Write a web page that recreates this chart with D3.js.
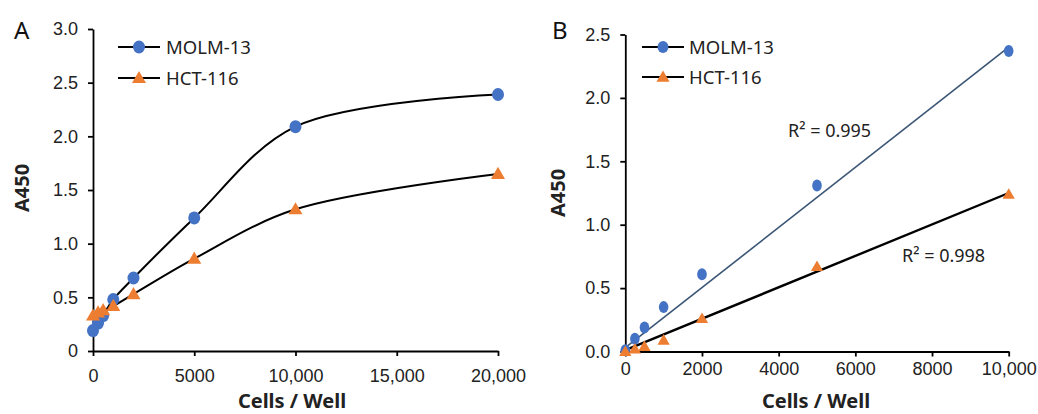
<!DOCTYPE html>
<html>
<head>
<meta charset="utf-8">
<script src="https://cdn.jsdelivr.net/npm/d3@7"></script>
<style>
  body { margin: 0; background: #fff; }
  svg { display: block; font-family: "Noto Sans", sans-serif; }
  .tick text { font-size: 18px; fill: #222; }
  .axis path, .axis line { stroke: #000; stroke-width: 1.8; }
</style>
</head>
<body>
<div id="svg-container"></div>
<script>
// cells per well
const cellsA = [0, 250, 500, 1000, 2000, 5000, 10000, 20000];
const cellsB = [0, 250, 500, 1000, 2000, 5000, 10000];

// absorbance, panel A
const molmA = [0.19, 0.26, 0.33, 0.48, 0.68, 1.24, 2.09, 2.39];
const hctA = [0.33, 0.36, 0.38, 0.42, 0.53, 0.86, 1.32, 1.65];

// absorbance, panel B
const molmB = [0.01, 0.10, 0.19, 0.35, 0.61, 1.31, 2.37];
const hctB = [0.0, 0.02, 0.04, 0.09, 0.26, 0.67, 1.24];

// linear fits in B (value at 0 and at 10,000 cells)
const fitX = [0, 10000];
const molmFit = [0.03, 2.40];
const hctFit = [0.01, 1.25];
const r2Labels = ["R\u00B2 = 0.995", "R\u00B2 = 0.998"];

const seriesNames = ["MOLM-13", "HCT-116"];

// tick labels
const yTicksA = [0, 0.5, 1, 1.5, 2, 2.5, 3];
const yLabelsA = ["0", "0.5", "1.0", "1.5", "2.0", "2.5", "3.0"];
const xTicksA = [0, 5000, 10000, 15000, 20000];
const xLabelsA = ["0", "5000", "10,000", "15,000", "20,000"];
const yTicksB = [0, 0.5, 1, 1.5, 2, 2.5];
const yLabelsB = ["0.0", "0.5", "1.0", "1.5", "2.0", "2.5"];
const xTicksB = [0, 2000, 4000, 6000, 8000, 10000];
const xLabelsB = ["0", "2000", "4000", "6000", "8000", "10,000"];

const blue = "#4472c4";
const orange = "#ed7d31";

const width = 1038, height = 414;
const svg = d3.select("#svg-container").append("svg")
  .attr("width", width).attr("height", height);

function zip(xs, ys) { return xs.map((x, i) => ({ x: x, y: ys[i] })); }

function drawCircles(g, data, x, y, rx, ry) {
  g.selectAll(null).data(data).enter().append("ellipse")
    .attr("cx", d => x(d.x)).attr("cy", d => y(d.y))
    .attr("rx", rx).attr("ry", ry).attr("fill", blue);
}
function drawTriangles(g, data, x, y, size) {
  const sym = d3.symbol().type(d3.symbolTriangle).size(size);
  g.selectAll(null).data(data).enter().append("path")
    .attr("d", sym)
    .attr("transform", d => `translate(${x(d.x)},${y(d.y) + 1})`)
    .attr("fill", orange);
}

function drawAxes(x, y, xt, xl, yt, yl, xPad) {
  const y0 = y.range()[0], x0 = x.range()[0];
  svg.append("g").attr("class", "axis")
    .attr("transform", `translate(0,${y0})`)
    .call(d3.axisBottom(x).tickValues(xt).tickFormat((d, i) => xl[i])
      .tickSize(5).tickSizeOuter(0).tickPadding(xPad));
  svg.append("g").attr("class", "axis")
    .attr("transform", `translate(${x0},0)`)
    .call(d3.axisLeft(y).tickValues(yt).tickFormat((d, i) => yl[i])
      .tickSize(5).tickSizeOuter(0).tickPadding(10));
}

function drawLegend(lx1, lx2, rows, tx, r) {
  seriesNames.forEach((name, i) => {
    const g = svg.append("g");
    g.append("line").attr("x1", lx1).attr("x2", lx2)
      .attr("y1", rows[i]).attr("y2", rows[i])
      .attr("stroke", "#000").attr("stroke-width", 2);
    const mx = (lx1 + lx2) / 2;
    if (i === 0) {
      g.append("ellipse").attr("cx", mx).attr("cy", rows[i])
        .attr("rx", r[0]).attr("ry", r[1]).attr("fill", blue);
    } else {
      g.append("path").attr("d", d3.symbol().type(d3.symbolTriangle).size(r[2])())
        .attr("transform", `translate(${mx},${rows[i] + 1})`).attr("fill", orange);
    }
    g.append("text").attr("x", tx).attr("y", rows[i] + 6.5)
      .attr("font-size", 18.5).attr("fill", "#222").text(name);
  });
}

function axisTitles(cx, letter, lx, yx, yy) {
  svg.append("text").attr("x", cx).attr("y", 408).attr("text-anchor", "middle")
    .attr("font-size", 20).attr("font-weight", "bold").attr("fill", "#222")
    .text("Cells / Well");
  svg.append("text").attr("transform", `translate(${yx},${yy}) rotate(-90)`)
    .attr("text-anchor", "middle").attr("dy", "0.35em")
    .attr("font-size", 20).attr("font-weight", "bold").attr("fill", "#222")
    .text("A450");
  svg.append("text").attr("x", lx).attr("y", 39)
    .attr("font-size", 24).attr("fill", "#111").text(letter);
}

// ---- Panel A ----
const xA = d3.scaleLinear().domain([0, 20000]).range([93, 498]);
const yA = d3.scaleLinear().domain([0, 3]).range([351, 29]);
drawAxes(xA, yA, xTicksA, xLabelsA, yTicksA, yLabelsA, 13);

const smooth = d3.line().x(d => xA(d.x)).y(d => yA(d.y)).curve(d3.curveCatmullRom);
const gA = svg.append("g");
[molmA, hctA].forEach(vals => {
  gA.append("path").datum(zip(cellsA, vals)).attr("d", smooth)
    .attr("fill", "none").attr("stroke", "#000").attr("stroke-width", 2);
});
drawCircles(gA, zip(cellsA, molmA), xA, yA, 6, 6.5);
drawTriangles(gA, zip(cellsA, hctA), xA, yA, 85);
drawLegend(118, 160, [47, 78], 166, [6, 6.5, 85]);
axisTitles(292, "A", 14, 22, 188);

// ---- Panel B ----
const xB = d3.scaleLinear().domain([0, 10000]).range([625.3, 1008.7]);
const yB = d3.scaleLinear().domain([0, 2.5]).range([351.5, 34.5]);
drawAxes(xB, yB, xTicksB, xLabelsB, yTicksB, yLabelsB, 6);

const straight = d3.line().x(d => xB(d.x)).y(d => yB(d.y));
const gB = svg.append("g");
gB.append("path").datum(zip(fitX, molmFit)).attr("d", straight)
  .attr("fill", "none").attr("stroke", "#3b5575").attr("stroke-width", 1.6);
gB.append("path").datum(zip(fitX, hctFit)).attr("d", straight)
  .attr("fill", "none").attr("stroke", "#000").attr("stroke-width", 2.4);
drawCircles(gB, zip(cellsB, molmB), xB, yB, 4.8, 6);
drawTriangles(gB, zip(cellsB, hctB), xB, yB, 65);
drawLegend(642, 684, [47, 77], 689, [5.5, 6, 75]);
axisTitles(816, "B", 552, 558, 193);

svg.append("text").attr("x", 788).attr("y", 137).attr("font-size", 18)
  .attr("fill", "#222").text(r2Labels[0]);
svg.append("text").attr("x", 902).attr("y", 262).attr("font-size", 18)
  .attr("fill", "#222").text(r2Labels[1]);
</script>
</body>
</html>
